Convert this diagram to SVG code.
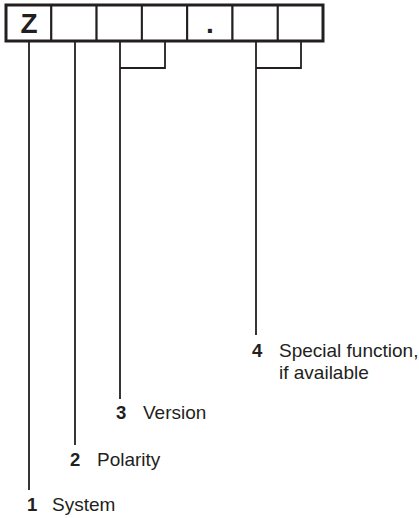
<svg xmlns="http://www.w3.org/2000/svg" width="419" height="518" viewBox="0 0 419 518">
<style>
.cell{fill:#fff;stroke:#231f20;stroke-width:2}
.frame{fill:none;stroke:#231f20;stroke-width:3}
.lead{fill:none;stroke:#231f20;stroke-width:1.8}
.num{font-family:"Liberation Sans",Arial,sans-serif;font-weight:bold;font-size:18.5px;fill:#231f20}
.lbl{font-family:"Liberation Sans",Arial,sans-serif;font-size:19px;fill:#231f20}
.big{font-family:"Liberation Sans",Arial,sans-serif;font-weight:bold;font-size:28px;fill:#231f20}
</style>
<rect width="419" height="518" fill="#fff"/>
<g id="code">
<rect class="cell" x="6" y="5" width="45.3" height="36"/>
<rect class="cell" x="51.3" y="5" width="45.3" height="36"/>
<rect class="cell" x="96.6" y="5" width="45.3" height="36"/>
<rect class="cell" x="141.9" y="5" width="45.3" height="36"/>
<rect class="cell" x="187.2" y="5" width="45.3" height="36"/>
<rect class="cell" x="232.5" y="5" width="45.3" height="36"/>
<rect class="cell" x="277.8" y="5" width="45.2" height="36"/>
<rect class="frame" x="6" y="5" width="317" height="36"/>
<text class="big" x="29" y="33" text-anchor="middle">Z</text>
<text class="big" x="210" y="33" text-anchor="middle">.</text>
</g>
<g id="connectors">
<line class="lead" x1="29" y1="41" x2="29" y2="490"/>
<line class="lead" x1="75" y1="41" x2="75" y2="445"/>
<polyline class="lead" points="120,399 120,41 120,68 165,68 165,41"/>
<polyline class="lead" points="256,335 256,41 256,68 301,68 301,41"/>
</g>
<g id="label1">
<text class="num" x="27" y="511">1</text>
<text class="lbl" x="52" y="511">System</text>
</g>
<g id="label2">
<text class="num" x="70" y="466">2</text>
<text class="lbl" x="97" y="466">Polarity</text>
</g>
<g id="label3">
<text class="num" x="116" y="419">3</text>
<text class="lbl" x="143" y="419">Version</text>
</g>
<g id="label4">
<text class="num" x="252" y="357">4</text>
<text class="lbl" x="279" y="357">Special function,</text>
<text class="lbl" x="279" y="379">if available</text>
</g>
</svg>
